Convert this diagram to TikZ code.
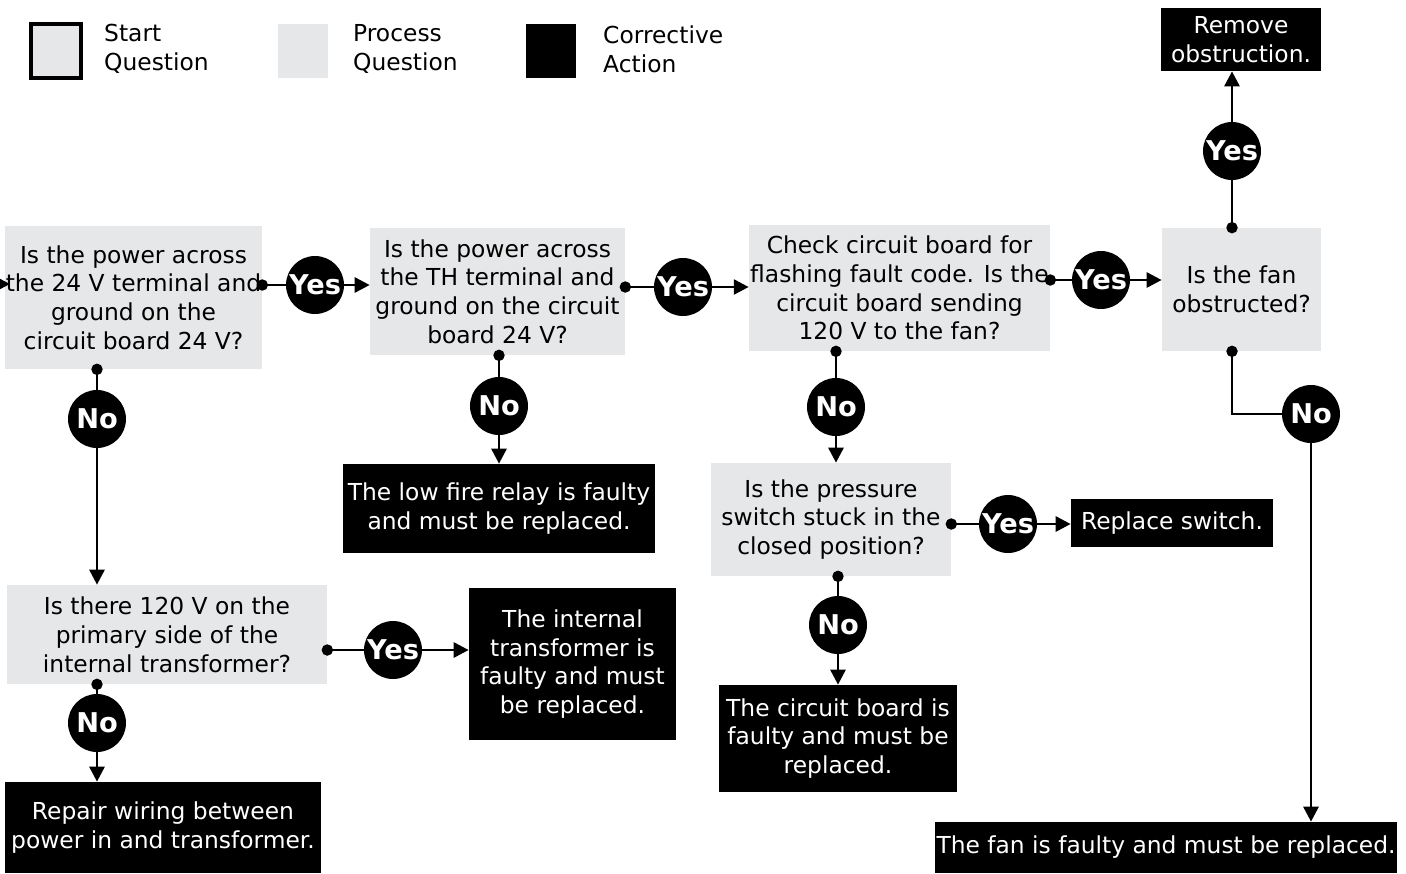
\documentclass[tikz,border=0pt]{standalone}
\usepackage{fontspec}
\setmainfont{DejaVu Sans}
\usetikzlibrary{arrows.meta}
\definecolor{qgrey}{HTML}{E6E7E8}

\begin{document}
\begin{tikzpicture}[x=0.02cm,y=-0.02cm,font=\fontsize{13.3}{16.4}\selectfont,process/.style={fill=qgrey,inner sep=0pt,align=center},action/.style={fill=black,text=white,inner sep=0pt,align=center},answer/.style={circle,fill=black,text=white,inner sep=0pt,minimum size=1.16cm,font=\fontsize{15.5}{16}\selectfont\bfseries},dot/.style={line width=1.6pt,{Circle[length=6.4pt]}-,shorten <=-3.2pt},arrow/.style={line width=1.6pt,-{Triangle[length=8.5pt,width=8.5pt]}}]
	\useasboundingbox (0,0) rectangle (1406,873);

	\node[process,draw=black,line width=2.3pt,minimum width=1cm,minimum height=1.08cm]	(ls)	at (56,51)		{};
	\node[anchor=west,align=left]								(lst)	at (98,49)		{Start\\Question};
	\node[process,minimum width=1cm,minimum height=1.08cm]		(lp)	at (303,51)		{};
	\node[anchor=west,align=left]								(lpt)	at (347,49)		{Process\\Question};
	\node[action,minimum width=1cm,minimum height=1.08cm]		(la)	at (551,51)		{};
	\node[anchor=west,align=left]								(lat)	at (597,49)		{Corrective\\Action};

	\node[process,minimum width=5.14cm,minimum height=2.86cm]	(q1)	at (133.5,297.5)	{Is the power across\\the 24 V terminal and\\ground on the\\circuit board 24 V?};
	\node[process,minimum width=5.10cm,minimum height=2.54cm]	(q2)	at (497.5,291.5)	{Is the power across\\the TH terminal and\\ground on the circuit\\board 24 V?};
	\node[process,minimum width=6.02cm,minimum height=2.52cm]	(q3)	at (899.5,288)		{Check circuit board for\\flashing fault code. Is the\\circuit board sending\\120 V to the fan?};
	\node[process,minimum width=3.18cm,minimum height=2.46cm]	(q4)	at (1241.5,289.5)	{Is the fan\\obstructed?};
	\node[process,minimum width=4.80cm,minimum height=2.26cm]	(q5)	at (831,519.5)		{Is the pressure\\switch stuck in the\\closed position?};
	\node[process,minimum width=6.40cm,minimum height=1.98cm]	(q6)	at (167,634.5)		{Is there 120 V on the\\primary side of the\\internal transformer?};

	\node[action,minimum width=3.20cm,minimum height=1.26cm]	(a1)	at (1241,39.5)		{Remove\\obstruction.};
	\node[action,minimum width=6.24cm,minimum height=1.78cm]	(a2)	at (499,508.5)		{The low fire relay is faulty\\and must be replaced.};
	\node[action,minimum width=4.04cm,minimum height=0.96cm]	(a3)	at (1172,523)		{Replace switch.};
	\node[action,minimum width=4.76cm,minimum height=2.14cm]	(a4)	at (838,738.5)		{The circuit board is\\faulty and must be\\replaced.};
	\node[action,minimum width=9.24cm,minimum height=1.02cm]	(a5)	at (1166,847.5)		{The fan is faulty and must be replaced.};
	\node[action,minimum width=4.14cm,minimum height=3.04cm]	(a6)	at (572.5,664)		{The internal\\transformer is\\faulty and must\\be replaced.};
	\node[action,minimum width=6.32cm,minimum height=1.82cm]	(a7)	at (163,827.5)		{Repair wiring between\\power in and transformer.};

	\node[answer]	(y1)	at (315,285)	{Yes};
	\node[answer]	(y2)	at (683,287)	{Yes};
	\node[answer]	(y3)	at (1101,280)	{Yes};
	\node[answer]	(y4)	at (1232,151)	{Yes};
	\node[answer]	(y5)	at (1008,524)	{Yes};
	\node[answer]	(y6)	at (393,650)	{Yes};
	\node[answer]	(n1)	at (97,419)		{No};
	\node[answer]	(n2)	at (499,406)	{No};
	\node[answer]	(n3)	at (836,407)	{No};
	\node[answer]	(n4)	at (1311,414)	{No};
	\node[answer]	(n5)	at (838,625)	{No};
	\node[answer]	(n6)	at (97,723)		{No};

	\coordinate	(in)	at (-8,284);

	\draw[arrow,shorten >=-3pt] (in) -- (in -| q1.west);

	\draw[dot] (y1 -| q1.east) -- (y1);
	\draw[arrow] (y1) -- (y1 -| q2.west);
	\draw[dot] (y2 -| q2.east) -- (y2);
	\draw[arrow] (y2) -- (y2 -| q3.west);
	\draw[dot] (y3 -| q3.east) -- (y3);
	\draw[arrow] (y3) -- (y3 -| q4.west);
	\draw[dot] (y4 |- q4.north) -- (y4);
	\draw[arrow] (y4) -- (y4 |- a1.south);
	\draw[dot] (y5 -| q5.east) -- (y5);
	\draw[arrow] (y5) -- (y5 -| a3.west);
	\draw[dot] (y6 -| q6.east) -- (y6);
	\draw[arrow] (y6) -- (y6 -| a6.west);

	\draw[dot] (n1 |- q1.south) -- (n1);
	\draw[arrow] (n1) -- (n1 |- q6.north);
	\draw[dot] (n2 |- q2.south) -- (n2);
	\draw[arrow] (n2) -- (n2 |- a2.north);
	\draw[dot] (n3 |- q3.south) -- (n3);
	\draw[arrow] (n3) -- (n3 |- q5.north);
	\draw[dot] (y4 |- q4.south) |- (n4);
	\draw[arrow] (n4) -- (n4 |- a5.north);
	\draw[dot] (n5 |- q5.south) -- (n5);
	\draw[arrow] (n5) -- (n5 |- a4.north);
	\draw[dot] (n6 |- q6.south) -- (n6);
	\draw[arrow] (n6) -- (n6 |- a7.north);
\end{tikzpicture}
\end{document}
